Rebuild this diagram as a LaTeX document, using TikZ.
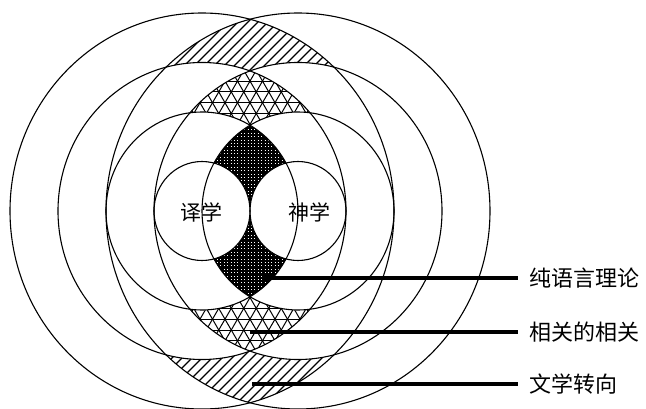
\documentclass[tikz,border=0pt]{standalone}
\usepackage{fontspec}
\newfontfamily\cjk{Noto Sans CJK SC}
\begin{document}
\begin{tikzpicture}[x=1pt,y=-1pt,
  ring/.style={draw=black,line width=1.1pt},
  hatchline/.style={line width=1.2pt},
  latline/.style={line width=1pt},
  leader/.style={line width=3.3pt},
  lab/.style={font=\cjk\fontsize{22}{22}\selectfont, anchor=west, inner sep=0pt},
  inlab/.style={font=\cjk\fontsize{21}{21}\selectfont, inner sep=0pt}]
\useasboundingbox (0,0) rectangle (646,409);
% 1: hatched lens (outer circles)
\begin{scope}
  \clip (202,211) ellipse [x radius=192pt, y radius=198pt];
  \clip (298,211) ellipse [x radius=192pt, y radius=198pt];
  \foreach \i in {-25,...,50} \draw[hatchline] (\i*10,420) -- (\i*10+430,-10);
\end{scope}
% 2: clear third circles
\fill[white] (202,211) ellipse [x radius=144pt, y radius=148.5pt];
\fill[white] (298,211) ellipse [x radius=144pt, y radius=148.5pt];
% 3: triangular lattice lens
\begin{scope}
  \clip (202,211) ellipse [x radius=144pt, y radius=148.5pt];
  \clip (298,211) ellipse [x radius=144pt, y radius=148.5pt];
  \foreach \k in {-16,...,16} \draw[latline] (40,211+\k*10.825) -- (460,211+\k*10.825);
  \foreach \m in {-26,...,26} {
    \draw[latline] (250+\m*12.5-127.6,-10) -- (250+\m*12.5+126.5,430);
    \draw[latline] (250+\m*12.5+127.6,-10) -- (250+\m*12.5-126.5,430);
  }
\end{scope}
% 4: clear second circles
\fill[white] (202,211) ellipse [x radius=96pt, y radius=99pt];
\fill[white] (298,211) ellipse [x radius=96pt, y radius=99pt];
% 5: dark lens
\begin{scope}
  \clip (202,211) ellipse [x radius=96pt, y radius=99pt];
  \clip (298,211) ellipse [x radius=96pt, y radius=99pt];
  \fill[black] (150,100) rectangle (350,320);
  \foreach \j in {0,...,62} \draw[white,line width=1pt,dash pattern=on 1pt off 2.4pt] (200,113+\j*3.4) -- (300,113+\j*3.4);
\end{scope}
% 6: clear small circles
\fill[white] (202,211) ellipse [x radius=48pt, y radius=49.5pt];
\fill[white] (298,211) ellipse [x radius=48pt, y radius=49.5pt];
% 7: outlines
\foreach \rx/\ry in {48/49.5,96/99,144/148.5,192/198} {
  \draw[ring] (202,211) ellipse [x radius=\rx pt, y radius=\ry pt];
  \draw[ring] (298,211) ellipse [x radius=\rx pt, y radius=\ry pt];
}
% 8: labels
\node[inlab] (yixue) at (201,212) {译学};
\node[inlab] (shenxue) at (309,212) {神学};
\coordinate (a1) at (264,278);
\coordinate (a2) at (250,332);
\coordinate (a3) at (252,384);
\node[lab] (t1) at (529,278) {纯语言理论};
\node[lab] (t2) at (529,332) {相关的相关};
\node[lab] (t3) at (529,384) {文学转向};
\draw[leader] (a1) -- ([xshift=-11pt]t1.west);
\draw[leader] (a2) -- ([xshift=-11pt]t2.west);
\draw[leader] (a3) -- ([xshift=-11pt]t3.west);
\end{tikzpicture}
\end{document}
